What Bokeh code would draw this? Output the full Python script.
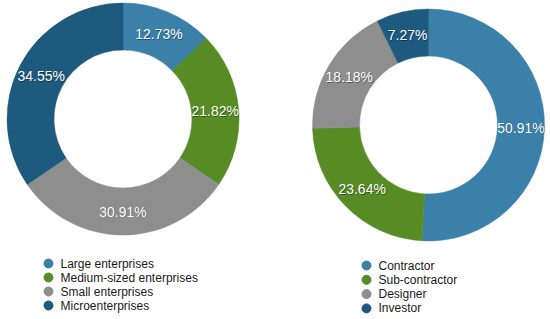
import numpy as np
from bokeh.plotting import figure
from bokeh.models import Range1d, ColumnDataSource
from bokeh.core.properties import value
from bokeh.embed import file_html
from bokeh.resources import INLINE

# ---- data ----
size_labels = ["Large enterprises", "Medium-sized enterprises", "Small enterprises", "Microenterprises"]
size_values = [12.73, 21.82, 30.91, 34.55]
role_labels = ["Contractor", "Sub-contractor", "Designer", "Investor"]
role_values = [50.91, 23.64, 18.18, 7.27]
colors = ["#3A80A9", "#578B24", "#8E8E8E", "#1E5A7D"]

W, H = 550, 319
# plot coordinates are picture pixels
p = figure(width=W, height=H, x_range=Range1d(0, W), y_range=Range1d(H, 0),
           output_backend="svg", toolbar_location=None, min_border=0,
           outline_line_color=None)
p.axis.visible = False
p.grid.visible = False

FONT = value("Liberation Sans")


def donut(cx, cy, r_out, r_in, labels, vals, leg_x, leg_y0, leg_dy):
    vals = np.array(vals, dtype=float)
    frac = vals / vals.sum()
    ends = np.cumsum(frac) * 2 * np.pi
    starts = np.concatenate([[0.0], ends[:-1]])
    # screen-space angles (anticlockwise from +x); slices run clockwise from top
    s_scr = np.pi / 2 - ends
    e_scr = np.pi / 2 - starts
    src = ColumnDataSource(dict(s=s_scr, e=e_scr, c=colors[:len(vals)]))
    p.annular_wedge(x=cx, y=cy, inner_radius=r_in, outer_radius=r_out,
                    start_angle="s", end_angle="e", direction="anticlock",
                    fill_color="c", line_color="c", line_width=0.5, source=src)
    mid = (starts + ends) / 2
    rm = (r_out + r_in) / 2
    lx = cx + rm * np.sin(mid)
    ly = cy - rm * np.cos(mid)
    txt = ["%.2f%%" % v for v in vals]
    p.text(x=lx + 0.8, y=ly + 0.8, text=txt, text_align="center", text_baseline="middle",
           text_font=FONT, text_font_size="14px", text_color="#000000", text_alpha=0.4)
    p.text(x=lx, y=ly, text=txt, text_align="center", text_baseline="middle",
           text_font=FONT, text_font_size="14px", text_color="white")
    # legend
    ys = leg_y0 + leg_dy * np.arange(len(labels))
    p.scatter(x=[leg_x] * len(labels), y=ys, size=9, color=colors[:len(labels)])
    p.text(x=[leg_x + 12] * len(labels), y=ys, text=labels, text_align="left",
           text_baseline="middle", text_font=FONT, text_font_size="12px",
           text_color="#1a1a1a")


donut(122.5, 118.5, 116, 69, size_labels, size_values, 48, 263, 14)
donut(428, 124.5, 116, 69, role_labels, role_values, 366, 265, 14.3)

open("out.html", "w").write(file_html(p, INLINE))
